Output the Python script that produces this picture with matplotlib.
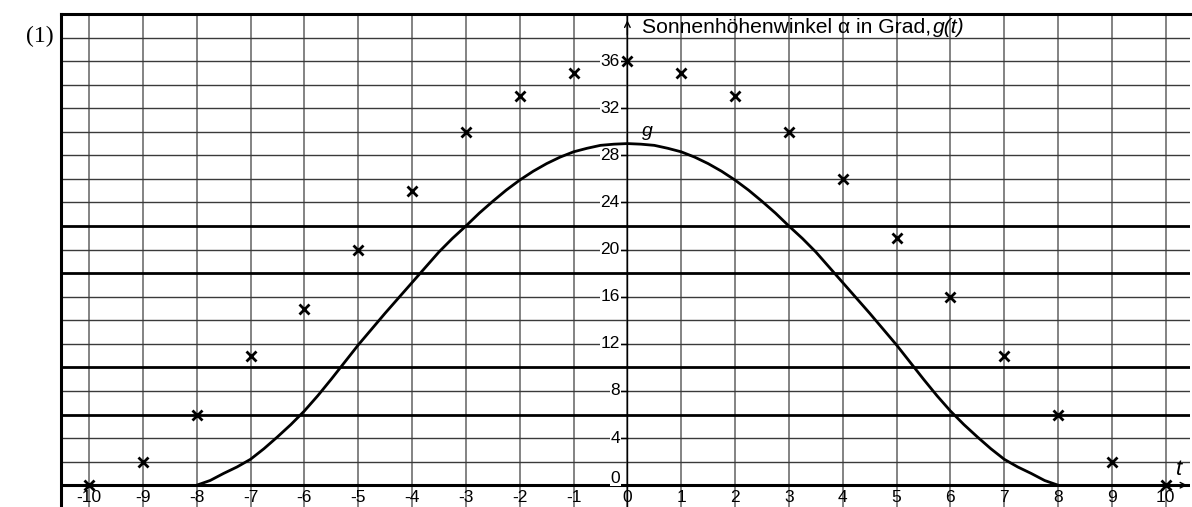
import numpy as np
import matplotlib.pyplot as plt

# measured sun elevation (crosses)
t_pts = [-10, -9, -8, -7, -6, -5, -4, -3, -2, -1, 0, 1, 2, 3, 4, 5, 6, 7, 8, 9, 10]
alpha = [0, 2, 6, 11, 15, 20, 25, 30, 33, 35, 36, 35, 33, 30, 26, 21, 16, 11, 6, 2, 0]

# model curve g
t_g = [-8, -7.75, -7.5, -7.25, -7, -6.75, -6.5, -6.25, -6, -5.75, -5.5, -5.25,
       -5, -4.75, -4.5, -4.25, -4, -3.75, -3.5, -3.25, -3, -2.75, -2.5, -2.25,
       -2, -1.75, -1.5, -1.25, -1, -0.75, -0.5, -0.25, 0,
       0.25, 0.5, 0.75, 1, 1.25, 1.5, 1.75, 2, 2.25, 2.5, 2.75, 3, 3.25, 3.5, 3.75,
       4, 4.25, 4.5, 4.75, 5, 5.25, 5.5, 5.75, 6, 6.25, 6.5, 6.75, 7, 7.25, 7.5, 7.75, 8]
g_vals = [0, 0.4, 1.0, 1.55, 2.2, 3.1, 4.1, 5.15, 6.3, 7.6, 9.0, 10.45,
          11.9, 13.25, 14.6, 15.9, 17.2, 18.5, 19.8, 20.95, 22.0, 23.1, 24.1, 25.05,
          25.9, 26.65, 27.3, 27.85, 28.3, 28.6, 28.85, 28.95, 29.0,
          28.95, 28.85, 28.6, 28.3, 27.85, 27.3, 26.65, 25.9, 25.05, 24.1, 23.1, 22.0, 20.95, 19.8, 18.5,
          17.2, 15.9, 14.6, 13.25, 11.9, 10.45, 9.0, 7.6, 6.3, 5.15, 4.1, 3.1, 2.2, 1.55, 1.0, 0.4, 0]

x_ticks = list(range(-10, 11))
y_ticks = list(range(0, 37, 4))
thick_y = [6, 10, 18, 22]

plt.rcParams['font.family'] = ['Liberation Sans', 'DejaVu Sans']

fig = plt.figure(figsize=(11.92, 5.07), dpi=100)
ax = fig.add_axes([61 / 1192, 0, 1129 / 1192, 1 - 14 / 507])
ax.set_xlim(-10.52, 10.45)
ax.set_ylim(-1.85, 40)

# paper grid
for x in x_ticks:
    ax.axvline(x, color='#7a7a7a', lw=1.3, zorder=1)
for y in range(2, 40, 2):
    if y in thick_y:
        ax.axhline(y, color='black', lw=2, zorder=2)
    else:
        ax.axhline(y, color='#3a3a3a', lw=1, zorder=1)
ax.axhline(0, color='black', lw=2.2, zorder=2)
ax.axvline(0, color='black', lw=1, zorder=2)

for s in ['right', 'bottom']:
    ax.spines[s].set_visible(False)
for s in ['left', 'top']:
    ax.spines[s].set_linewidth(2.2)
ax.set_xticks([])
ax.set_yticks([])

# axis arrows
ax.annotate('', xy=(0, 39.7), xytext=(0, 38), arrowprops=dict(arrowstyle='->', lw=1, color='black'),
            annotation_clip=False)
ax.annotate('', xy=(10.45, 0), xytext=(10.1, 0), arrowprops=dict(arrowstyle='->', lw=1, color='black'),
            annotation_clip=False)

# tick labels
for y in y_ticks:
    yy = y + 0.6 if y == 0 else y
    ax.text(-0.14, yy, str(y), ha='right', va='center', fontsize=12.5, zorder=4,
            bbox=dict(facecolor='white', edgecolor='none', pad=0.5))
    ax.plot([-0.12, 0], [y, y], color='black', lw=1, zorder=3)
for x in x_ticks:
    ax.text(x, -1.05, str(x), ha='center', va='center', fontsize=12.5)

# data
ax.plot(t_g, g_vals, color='black', lw=2, zorder=5)
ax.plot(t_pts, alpha, 'x', color='black', ms=6.5, mew=2, zorder=6, clip_on=False)

ax.text(0.38, 30, 'g', style='italic', fontsize=14, ha='center', va='center')
ax.text(10.25, 1.3, 't', style='italic', fontsize=16, ha='center', va='center')
lab = ax.text(0.27, 38.4, 'Sonnenhöhenwinkel α in Grad,', fontsize=15.2, va='baseline')
ax.annotate('g(t)', xy=(1, 0), xycoords=lab, xytext=(1.5, 0), textcoords='offset points',
            va='bottom', fontsize=15.2, style='italic')

fig.text(40 / 1192, 1 - 36 / 507, '(1)', family='Liberation Serif', fontsize=17, ha='center', va='center')

fig.savefig('out.png', dpi=100)
